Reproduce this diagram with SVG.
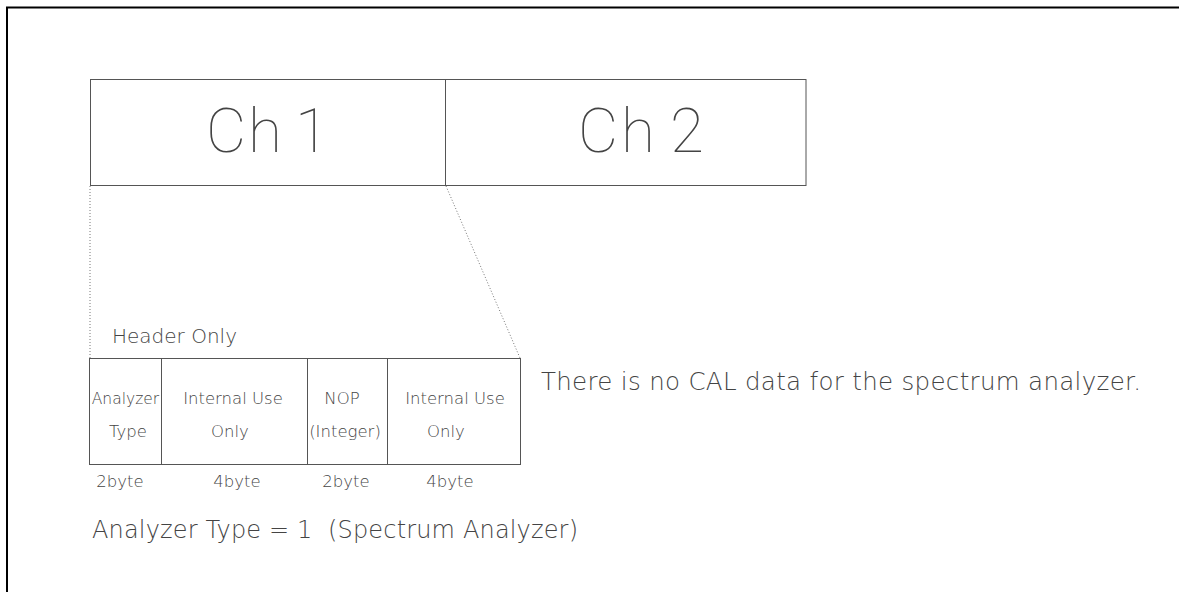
<svg xmlns="http://www.w3.org/2000/svg" width="1179" height="592" viewBox="0 0 1179 592">
<style>
.box{fill:none;stroke:#555;stroke-width:1}
.dot{fill:none;stroke:#777;stroke-width:1;stroke-dasharray:1 2}
text{font-family:"DejaVu Sans","Liberation Sans",sans-serif;font-weight:200;fill:#444}
.big{font-family:Roboto,"Liberation Sans",sans-serif;font-size:62px;font-weight:100}
.mid{font-size:24.5px}
.leg{font-size:24px}
.sm{font-size:16.5px;text-anchor:middle}
.hd{font-size:20px}
</style>
<rect width="1179" height="592" fill="#fff"/>
<path d="M7,592 V7.5 H1179" fill="none" stroke="#000" stroke-width="2"/>
<g id="ch1">
<rect class="box" x="90.5" y="79.5" width="355" height="106"/>
<text class="big" x="206 248 280 295" y="152">Ch 1</text>
</g>
<g id="ch2">
<rect class="box" x="445.5" y="79.5" width="360.5" height="106"/>
<text class="big" x="578 621 652 670" y="152">Ch 2</text>
</g>
<g id="connectors">
<line class="dot" x1="90" y1="186" x2="90" y2="358"/>
<line class="dot" x1="446" y1="186" x2="520" y2="358"/>
</g>
<g id="header">
<text class="hd" x="112" y="343">Header Only</text>
<rect class="box" x="89.5" y="358.5" width="431" height="106"/>
<line class="box" x1="161.5" y1="358.5" x2="161.5" y2="464.5"/>
<line class="box" x1="307.5" y1="358.5" x2="307.5" y2="464.5"/>
<line class="box" x1="387.5" y1="358.5" x2="387.5" y2="464.5"/>
</g>
<g id="cell-type">
<text class="sm" x="125.5" y="404" style="font-size:15.5px">Analyzer</text>
<text class="sm" x="128" y="437">Type</text>
<text class="sm" x="120" y="487">2byte</text>
</g>
<g id="cell-internal1">
<text class="sm" x="233" y="404">Internal Use</text>
<text class="sm" x="230" y="437">Only</text>
<text class="sm" x="237" y="487">4byte</text>
</g>
<g id="cell-nop">
<text class="sm" x="342" y="404">NOP</text>
<text class="sm" x="345" y="437">(Integer)</text>
<text class="sm" x="346" y="487">2byte</text>
</g>
<g id="cell-internal2">
<text class="sm" x="455" y="404">Internal Use</text>
<text class="sm" x="446" y="437">Only</text>
<text class="sm" x="450" y="487">4byte</text>
</g>
<g id="note">
<text class="mid" x="541" y="390" textLength="600">There is no CAL data for the spectrum analyzer.</text>
</g>
<g id="legend">
<text class="leg" x="92" y="538" textLength="486" xml:space="preserve">Analyzer Type = 1  (Spectrum Analyzer)</text>
</g>
</svg>
